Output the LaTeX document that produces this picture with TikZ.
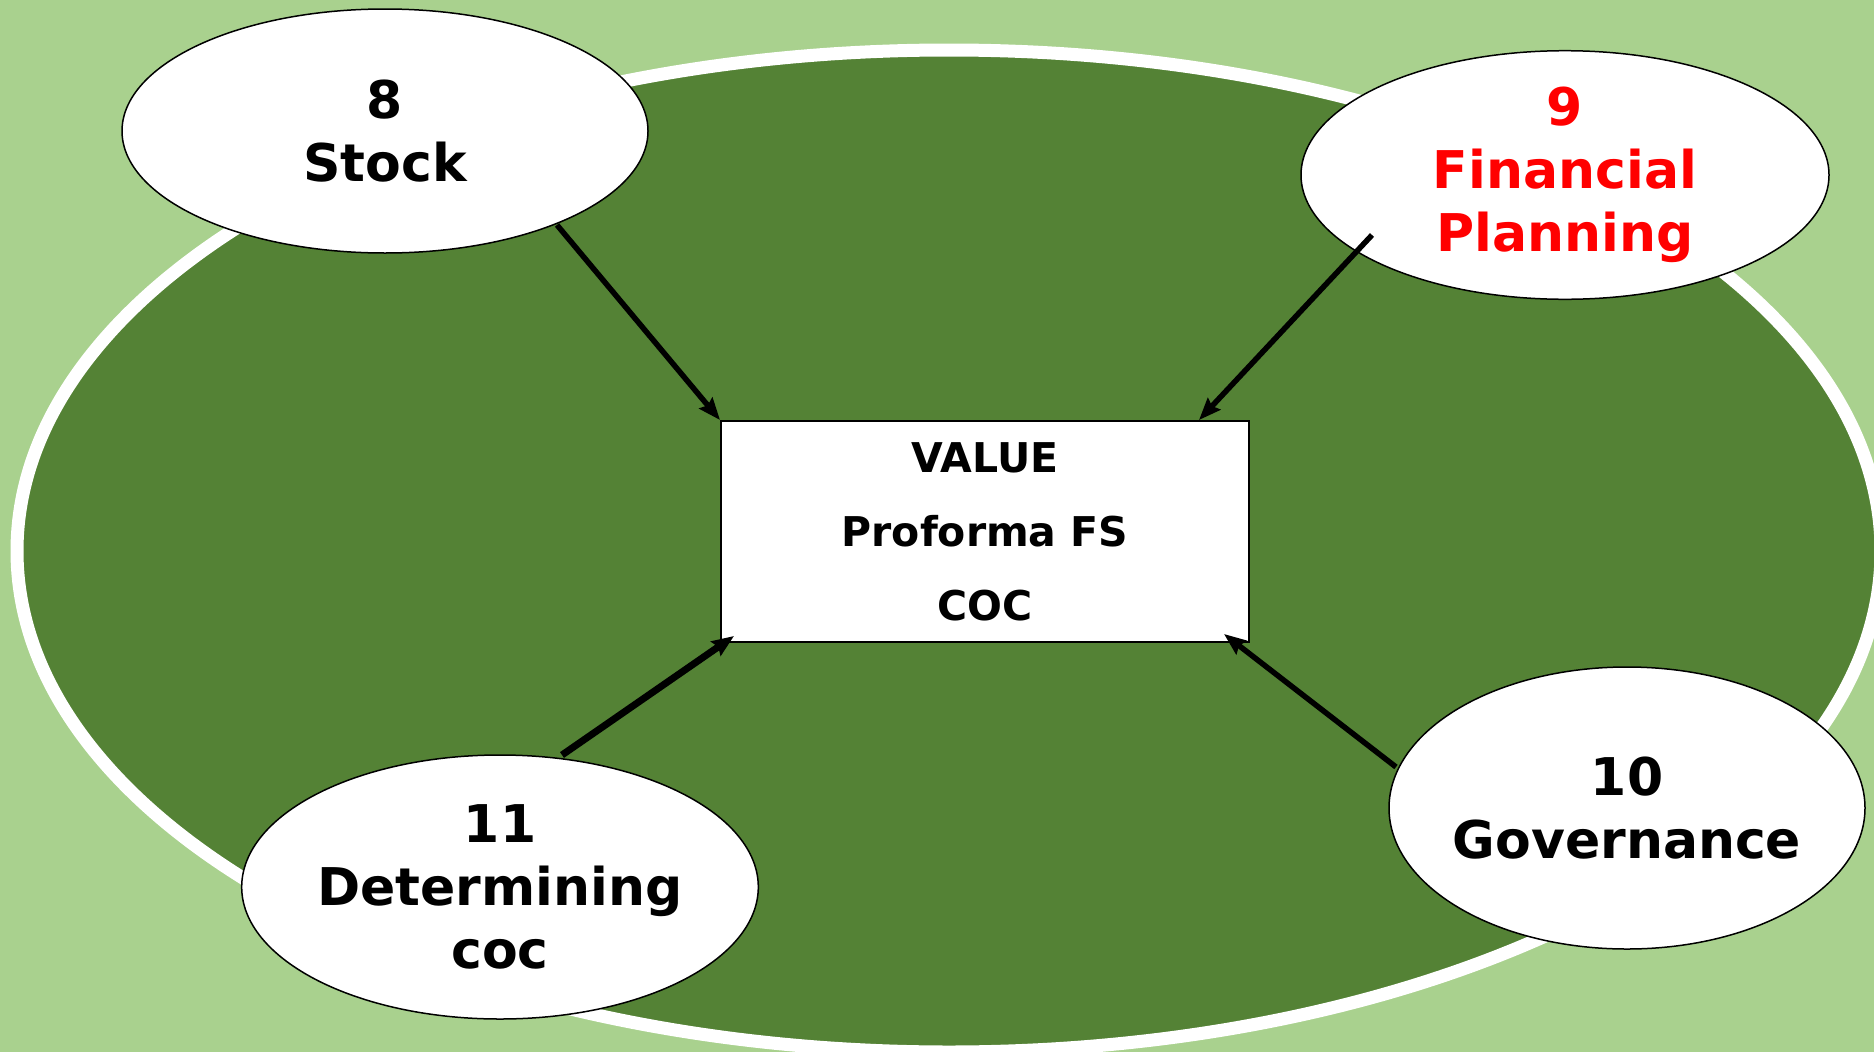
\documentclass[tikz,border=0pt]{standalone}
\usepackage{fontspec}
\setmainfont{DejaVu Sans}
\usetikzlibrary{shapes.geometric,arrows.meta}
\definecolor{bglight}{HTML}{A9D18E}
\definecolor{bgdark}{HTML}{548235}
\definecolor{txtred}{HTML}{FF0000}
\begin{document}
\begin{tikzpicture}[x=1pt,y=-1pt,
  topic/.style={ellipse, draw=black, line width=1.5pt, fill=white, inner sep=0pt,
    align=center, font=\bfseries\fontsize{52}{63}\selectfont},
  hub/.style={rectangle, draw=black, line width=2pt, fill=white, inner sep=0pt,
    minimum width=528pt, minimum height=221pt, align=center,
    font=\bfseries\fontsize{41}{74}\selectfont},
  link/.style={line width=5.5pt, -{Stealth[length=22pt,width=17pt,inset=3pt]}}]
\useasboundingbox (0,0) rectangle (1874,1052);
\fill[bglight] (0,0) rectangle (1874,1052);
\draw[fill=bgdark, draw=white, line width=13pt] (949,551) ellipse [x radius=932, y radius=501];

\node[topic, minimum width=526pt, minimum height=244pt] (stock) at (385,131) {8\\Stock};
\node[topic, minimum width=528pt, minimum height=246pt, text=txtred] (plan) at (1565,175) {9\\Financial\\Planning};
\node[topic, minimum width=476pt, minimum height=282pt, inner xsep=-14pt] (gov) at (1627,808) {10\\Governance};
\node[topic, minimum width=510pt, minimum height=264pt] (coc) at (500,887) {11\\Determining\\coc};
\node[hub] (val) at (985,531.5) {VALUE\\Proforma FS\\COC};

\coordinate (f8) at (557,225);
\coordinate (f9) at (1372,235);
\coordinate (f10) at (1396,767);
\coordinate (f11) at (562,755);

\draw[link] (f8) -- (val.north west);
\draw[link] (f9) -- ([xshift=-51pt]val.north east);
\draw[link, line width=7pt] (f11) -- ([xshift=14pt,yshift=7pt]val.south west);
\draw[link] (f10) -- ([xshift=-26pt,yshift=9pt]val.south east);
\end{tikzpicture}
\end{document}
